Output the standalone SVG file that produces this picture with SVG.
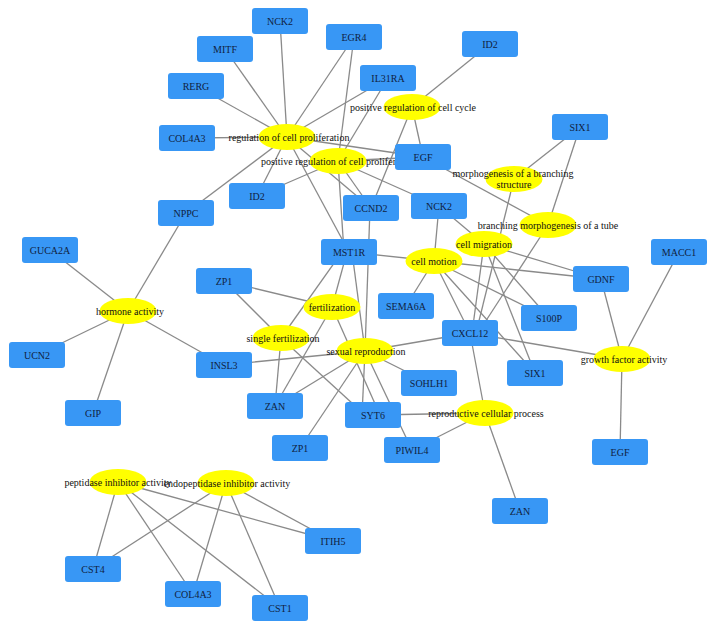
<svg xmlns="http://www.w3.org/2000/svg" width="716" height="630" viewBox="0 0 716 630">
<style>
.b rect{fill:#3897f5}
.e ellipse{fill:#ffff00}
text{font-family:"Liberation Serif",serif;font-size:10px;text-anchor:middle}
.b text{fill:#10223f}
.e text{fill:#111}
#edges line{stroke:#8a8a8a;stroke-width:1.3}
</style>
<rect width="716" height="630" fill="#ffffff"/>
<g id="edges">
<line x1="287" y1="137" x2="225" y2="49"/>
<line x1="287" y1="137" x2="196" y2="86"/>
<line x1="287" y1="137" x2="187" y2="138"/>
<line x1="287" y1="137" x2="280" y2="21"/>
<line x1="287" y1="137" x2="354" y2="37"/>
<line x1="287" y1="137" x2="388" y2="78"/>
<line x1="287" y1="137" x2="257" y2="196"/>
<line x1="287" y1="137" x2="186" y2="213"/>
<line x1="287" y1="137" x2="423" y2="157"/>
<line x1="287" y1="137" x2="349" y2="252"/>
<line x1="287" y1="137" x2="371" y2="208"/>
<line x1="338" y1="161" x2="257" y2="196"/>
<line x1="338" y1="161" x2="388" y2="78"/>
<line x1="338" y1="161" x2="354" y2="37"/>
<line x1="338" y1="161" x2="344" y2="252"/>
<line x1="338" y1="161" x2="371" y2="208"/>
<line x1="338" y1="161" x2="439" y2="206"/>
<line x1="338" y1="161" x2="423" y2="157"/>
<line x1="412" y1="107" x2="490" y2="44"/>
<line x1="412" y1="107" x2="423" y2="157"/>
<line x1="412" y1="107" x2="371" y2="208"/>
<line x1="128" y1="311" x2="50" y2="250"/>
<line x1="128" y1="311" x2="37" y2="355"/>
<line x1="128" y1="311" x2="93" y2="413"/>
<line x1="128" y1="311" x2="224" y2="365"/>
<line x1="128" y1="311" x2="186" y2="213"/>
<line x1="514" y1="179" x2="580" y2="127"/>
<line x1="514" y1="179" x2="476" y2="333"/>
<line x1="548" y1="225" x2="580" y2="127"/>
<line x1="548" y1="225" x2="423" y2="157"/>
<line x1="548" y1="225" x2="478" y2="333"/>
<line x1="484" y1="244" x2="439" y2="206"/>
<line x1="484" y1="244" x2="472" y2="333"/>
<line x1="484" y1="244" x2="601" y2="279"/>
<line x1="484" y1="244" x2="549" y2="318"/>
<line x1="484" y1="244" x2="535" y2="373"/>
<line x1="434" y1="261" x2="349" y2="252"/>
<line x1="434" y1="261" x2="439" y2="206"/>
<line x1="434" y1="261" x2="406" y2="306"/>
<line x1="434" y1="261" x2="470" y2="333"/>
<line x1="434" y1="261" x2="601" y2="279"/>
<line x1="434" y1="261" x2="549" y2="318"/>
<line x1="434" y1="261" x2="535" y2="373"/>
<line x1="622" y1="359" x2="601" y2="279"/>
<line x1="622" y1="359" x2="679" y2="252"/>
<line x1="622" y1="359" x2="470" y2="333"/>
<line x1="622" y1="359" x2="620" y2="452"/>
<line x1="485" y1="413" x2="470" y2="333"/>
<line x1="485" y1="413" x2="373" y2="415"/>
<line x1="485" y1="413" x2="412" y2="450"/>
<line x1="485" y1="413" x2="520" y2="511"/>
<line x1="365" y1="351" x2="224" y2="365"/>
<line x1="365" y1="351" x2="352" y2="252"/>
<line x1="365" y1="351" x2="470" y2="333"/>
<line x1="365" y1="351" x2="429" y2="383"/>
<line x1="365" y1="351" x2="362" y2="415"/>
<line x1="365" y1="351" x2="300" y2="448"/>
<line x1="365" y1="351" x2="275" y2="406"/>
<line x1="365" y1="351" x2="412" y2="450"/>
<line x1="365" y1="351" x2="370" y2="208"/>
<line x1="332" y1="307" x2="224" y2="281"/>
<line x1="332" y1="307" x2="347" y2="252"/>
<line x1="332" y1="307" x2="275" y2="406"/>
<line x1="332" y1="307" x2="380" y2="415"/>
<line x1="281" y1="338" x2="224" y2="281"/>
<line x1="281" y1="338" x2="342" y2="252"/>
<line x1="281" y1="338" x2="275" y2="406"/>
<line x1="281" y1="338" x2="365" y2="415"/>
<line x1="118" y1="482" x2="93" y2="569"/>
<line x1="118" y1="482" x2="193" y2="594"/>
<line x1="118" y1="482" x2="280" y2="608"/>
<line x1="118" y1="482" x2="333" y2="541"/>
<line x1="226" y1="483" x2="93" y2="569"/>
<line x1="226" y1="483" x2="193" y2="594"/>
<line x1="226" y1="483" x2="280" y2="608"/>
<line x1="226" y1="483" x2="333" y2="541"/>
</g>
<g id="n-RCP" class="e"><ellipse cx="287" cy="137" rx="28.5" ry="13"/><text x="289" y="140.5">regulation of cell proliferation</text></g>
<g id="n-PRCC" class="e"><ellipse cx="412" cy="107" rx="28.5" ry="13"/><text x="413" y="110.5">positive regulation of cell cycle</text></g>
<g id="n-PRCP" class="e"><ellipse cx="338" cy="161" rx="28.5" ry="13"/><text x="261" y="164.5" style="text-anchor:start">positive regulation of cell prolifer</text></g>
<g id="n-MBS" class="e"><ellipse cx="514" cy="179" rx="28.5" ry="13"/><text x="513" y="176.5">morphogenesis of a branching</text><text x="514" y="187.5">structure</text></g>
<g id="n-BMT" class="e"><ellipse cx="548" cy="225" rx="28.5" ry="13"/><text x="548" y="229">branching morphogenesis of a tube</text></g>
<g id="n-CMig" class="e"><ellipse cx="484" cy="244" rx="28.5" ry="13"/><text x="484" y="247.5">cell migration</text></g>
<g id="n-CMot" class="e"><ellipse cx="434" cy="261" rx="28.5" ry="13"/><text x="434" y="264.5">cell motion</text></g>
<g id="n-GFA" class="e"><ellipse cx="622" cy="359" rx="28.5" ry="13"/><text x="624" y="362.5">growth factor activity</text></g>
<g id="n-RCPr" class="e"><ellipse cx="485" cy="413" rx="28.5" ry="13"/><text x="486" y="416.5">reproductive cellular process</text></g>
<g id="n-SR" class="e"><ellipse cx="365" cy="351" rx="28.5" ry="13"/><text x="366" y="354.5">sexual reproduction</text></g>
<g id="n-FERT" class="e"><ellipse cx="332" cy="307" rx="28.5" ry="13"/><text x="332" y="310.5">fertilization</text></g>
<g id="n-SF" class="e"><ellipse cx="281" cy="338" rx="28.5" ry="13"/><text x="283" y="341.5">single fertilization</text></g>
<g id="n-HA" class="e"><ellipse cx="128" cy="311" rx="28.5" ry="13"/><text x="130" y="315">hormone activity</text></g>
<g id="n-PIA" class="e"><ellipse cx="118" cy="482" rx="28.5" ry="13"/><text x="118" y="485.5">peptidase inhibitor activity</text></g>
<g id="n-EIA" class="e"><ellipse cx="226" cy="483" rx="28.5" ry="13"/><text x="227" y="486.5">endopeptidase inhibitor activity</text></g>
<g id="n-MITF" class="b"><rect x="197" y="36" width="56" height="26" rx="3"/><text x="225" y="52.5">MITF</text></g>
<g id="n-RERG" class="b"><rect x="168" y="73" width="56" height="26" rx="3"/><text x="196" y="89.5">RERG</text></g>
<g id="n-COL4A3a" class="b"><rect x="159" y="125" width="56" height="26" rx="3"/><text x="187" y="141.5">COL4A3</text></g>
<g id="n-NCK2a" class="b"><rect x="252" y="8" width="56" height="26" rx="3"/><text x="280" y="24.5">NCK2</text></g>
<g id="n-EGR4" class="b"><rect x="326" y="24" width="56" height="26" rx="3"/><text x="354" y="40.5">EGR4</text></g>
<g id="n-IL31RA" class="b"><rect x="360" y="65" width="56" height="26" rx="3"/><text x="388" y="81.5">IL31RA</text></g>
<g id="n-ID2a" class="b"><rect x="462" y="31" width="56" height="26" rx="3"/><text x="490" y="47.5">ID2</text></g>
<g id="n-ID2b" class="b"><rect x="229" y="183" width="56" height="26" rx="3"/><text x="257" y="199.5">ID2</text></g>
<g id="n-NPPC" class="b"><rect x="158" y="200" width="56" height="26" rx="3"/><text x="186" y="216.5">NPPC</text></g>
<g id="n-EGFa" class="b"><rect x="395" y="144" width="56" height="26" rx="3"/><text x="423" y="160.5">EGF</text></g>
<g id="n-CCND2" class="b"><rect x="343" y="195" width="56" height="26" rx="3"/><text x="371" y="211.5">CCND2</text></g>
<g id="n-NCK2b" class="b"><rect x="411" y="193" width="56" height="26" rx="3"/><text x="439" y="209.5">NCK2</text></g>
<g id="n-MST1R" class="b"><rect x="321" y="239" width="56" height="26" rx="3"/><text x="349" y="255.5">MST1R</text></g>
<g id="n-SIX1a" class="b"><rect x="552" y="114" width="56" height="26" rx="3"/><text x="580" y="130.5">SIX1</text></g>
<g id="n-SEMA6A" class="b"><rect x="378" y="293" width="56" height="26" rx="3"/><text x="406" y="309.5">SEMA6A</text></g>
<g id="n-GDNF" class="b"><rect x="573" y="266" width="56" height="26" rx="3"/><text x="601" y="282.5">GDNF</text></g>
<g id="n-MACC1" class="b"><rect x="651" y="239" width="56" height="26" rx="3"/><text x="679" y="255.5">MACC1</text></g>
<g id="n-S100P" class="b"><rect x="521" y="305" width="56" height="26" rx="3"/><text x="549" y="321.5">S100P</text></g>
<g id="n-CXCL12" class="b"><rect x="442" y="320" width="56" height="26" rx="3"/><text x="470" y="336.5">CXCL12</text></g>
<g id="n-SIX1b" class="b"><rect x="507" y="360" width="56" height="26" rx="3"/><text x="535" y="376.5">SIX1</text></g>
<g id="n-EGFb" class="b"><rect x="592" y="439" width="56" height="26" rx="3"/><text x="620" y="455.5">EGF</text></g>
<g id="n-ZANb" class="b"><rect x="492" y="498" width="56" height="26" rx="3"/><text x="520" y="514.5">ZAN</text></g>
<g id="n-SOHLH1" class="b"><rect x="401" y="370" width="56" height="26" rx="3"/><text x="429" y="386.5">SOHLH1</text></g>
<g id="n-SYT6" class="b"><rect x="345" y="402" width="56" height="26" rx="3"/><text x="373" y="418.5">SYT6</text></g>
<g id="n-PIWIL4" class="b"><rect x="384" y="437" width="56" height="26" rx="3"/><text x="412" y="453.5">PIWIL4</text></g>
<g id="n-ZP1b" class="b"><rect x="272" y="435" width="56" height="26" rx="3"/><text x="300" y="451.5">ZP1</text></g>
<g id="n-ZP1a" class="b"><rect x="196" y="268" width="56" height="26" rx="3"/><text x="224" y="284.5">ZP1</text></g>
<g id="n-INSL3" class="b"><rect x="196" y="352" width="56" height="26" rx="3"/><text x="224" y="368.5">INSL3</text></g>
<g id="n-ZANa" class="b"><rect x="247" y="393" width="56" height="26" rx="3"/><text x="275" y="409.5">ZAN</text></g>
<g id="n-GUCA2A" class="b"><rect x="22" y="237" width="56" height="26" rx="3"/><text x="50" y="253.5">GUCA2A</text></g>
<g id="n-UCN2" class="b"><rect x="9" y="342" width="56" height="26" rx="3"/><text x="37" y="358.5">UCN2</text></g>
<g id="n-GIP" class="b"><rect x="65" y="400" width="56" height="26" rx="3"/><text x="93" y="416.5">GIP</text></g>
<g id="n-CST4" class="b"><rect x="65" y="556" width="56" height="26" rx="3"/><text x="93" y="572.5">CST4</text></g>
<g id="n-COL4A3b" class="b"><rect x="165" y="581" width="56" height="26" rx="3"/><text x="193" y="597.5">COL4A3</text></g>
<g id="n-ITIH5" class="b"><rect x="305" y="528" width="56" height="26" rx="3"/><text x="333" y="544.5">ITIH5</text></g>
<g id="n-CST1" class="b"><rect x="252" y="595" width="56" height="26" rx="3"/><text x="280" y="611.5">CST1</text></g>
</svg>
